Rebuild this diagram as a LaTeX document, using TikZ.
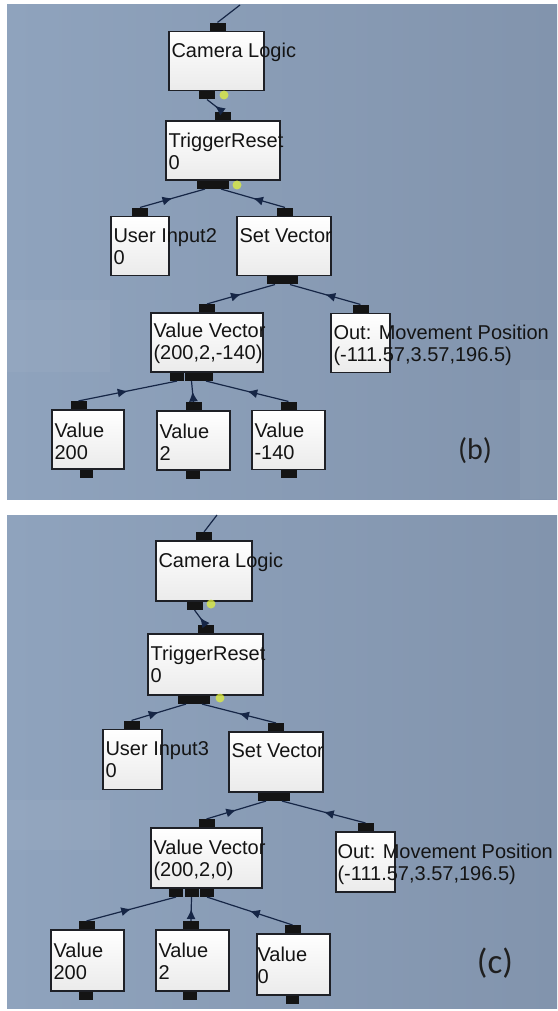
\documentclass[tikz,border=0pt]{standalone}
\usepackage{fontspec}
\setmainfont{Liberation Sans}
\newfontfamily\tagfont{Carlito}
\usetikzlibrary{arrows.meta,decorations.markings}

\definecolor{bgleft}{RGB}{143,163,189}
\definecolor{bgright}{RGB}{130,148,173}
\definecolor{boxedge}{RGB}{30,32,38}
\definecolor{linkblue}{RGB}{22,38,70}
\definecolor{glowyellow}{RGB}{225,240,60}

\tikzset{
    panel/.style={left color=bgleft, right color=bgright, draw=none},
    block/.style={rectangle, draw=boxedge, line width=1.3pt, top color=white,
        bottom color=gray!16, minimum height=59pt, inner sep=0pt},
    blocktext/.style={anchor=north west, inner sep=0pt, align=left,
        font=\fontsize{20}{22}\selectfont, text=black!92},
    port/.style={rectangle, fill=black!92, minimum width=16pt, minimum height=8pt, inner sep=0pt},
    link/.style={draw=linkblue, line width=1.2pt, postaction={decorate},
        decoration={markings, mark=at position 0.5 with {\arrow{Latex[length=10pt,width=9pt]}}}},
    glow/.style={circle, fill=glowyellow, opacity=0.75, minimum size=9pt, inner sep=0pt},
    tag/.style={text=black!88}
}

\begin{document}
\begin{tikzpicture}[x=1pt,y=-1pt]

    % Page and the two panels
    \fill[white] (0,0) rectangle (557,1011);
    \useasboundingbox (0,0) rectangle (557,1011);
    \fill[panel] (7,5) rectangle (557,499);
    \fill[panel] (7,515) rectangle (557,1008);
    \fill[white,opacity=0.04] (7,300) rectangle (110,372);
    \fill[white,opacity=0.04] (520,380) rectangle (557,499);
    \fill[white,opacity=0.04] (7,800) rectangle (110,850);

    %%%%%%%%%%%%%%%%%%%% panel (b) %%%%%%%%%%%%%%%%%%%%

    % Boxes
    \node[block, minimum width=95pt] (camB) at (216.5,61) {};
    \node[block, minimum width=114pt] (trgB) at (223,150.5) {};
    \node[block, minimum width=58pt] (usrB) at (140,246) {};
    \node[block, minimum width=94pt] (setB) at (284,246) {};
    \node[block, minimum width=112pt] (vvB) at (207,342.5) {};
    \node[block, minimum width=59pt] (outB) at (360.5,343) {};
    \node[block, minimum width=72pt] (vaB) at (88,439.5) {};
    \node[block, minimum width=73pt] (vbB) at (193.5,440.5) {};
    \node[block, minimum width=73pt] (vcB) at (288.5,440) {};

    % Box texts
    \node[blocktext] (camBt) at ([shift={(3pt,-12pt)}]camB.north west) {Camera Logic};
    \node[blocktext] (trgBt) at ([shift={(3pt,-12pt)}]trgB.north west) {TriggerReset\\0};
    \node[blocktext] (usrBt) at ([shift={(3pt,-12pt)}]usrB.north west) {User Input2\\0};
    \node[blocktext] (setBt) at ([shift={(3pt,-12pt)}]setB.north west) {Set Vector};
    \node[blocktext] (vvBt) at ([shift={(3pt,-10pt)}]vvB.north west) {Value Vector\\(200,2,-140)};
    \node[blocktext] (outBt) at ([shift={(3pt,-12pt)}]outB.north west) {Out: Movement Position\\(-111.57,3.57,196.5)};
    \node[blocktext] (vaBt) at ([shift={(3pt,-13pt)}]vaB.north west) {Value\\200};
    \node[blocktext] (vbBt) at ([shift={(3pt,-13pt)}]vbB.north west) {Value\\2};
    \node[blocktext] (vcBt) at ([shift={(3pt,-13pt)}]vcB.north west) {Value\\-140};

    % Ports
    \node[port, anchor=south] (camBin) at ([xshift=1pt]camB.north) {};
    \node[port, anchor=north] (camBout) at ([xshift=-9.5pt]camB.south) {};
    \node[port, anchor=south] (trgBin) at (trgB.north) {};
    \node[port, anchor=north] (trgBouta) at ([xshift=-18pt]trgB.south) {};
    \node[port, anchor=north] (trgBoutb) at ([xshift=-2pt]trgB.south) {};
    \node[port, anchor=south] (usrBin) at (usrB.north) {};
    \node[port, anchor=south] (setBin) at ([xshift=1pt]setB.north) {};
    \node[port, anchor=north] (setBouta) at ([xshift=-9pt]setB.south) {};
    \node[port, anchor=north] (setBoutb) at ([xshift=6pt]setB.south) {};
    \node[port, anchor=south] (vvBin) at (vvB.north) {};
    \node[port, anchor=north, minimum width=14pt] (vvBouta) at ([xshift=-30pt]vvB.south) {};
    \node[port, anchor=north, minimum width=14pt] (vvBoutb) at ([xshift=-15.5pt]vvB.south) {};
    \node[port, anchor=north, minimum width=14pt] (vvBoutc) at ([xshift=-1pt]vvB.south) {};
    \node[port, anchor=south] (outBin) at (outB.north) {};
    \node[port, anchor=south] (vaBin) at ([xshift=-9.5pt]vaB.north) {};
    \node[port, anchor=north, minimum width=13pt] (vaBout) at ([xshift=-1.5pt]vaB.south) {};
    \node[port, anchor=south] (vbBin) at (vbB.north) {};
    \node[port, anchor=north, minimum width=14pt] (vbBout) at ([xshift=-1pt]vbB.south) {};
    \node[port, anchor=south] (vcBin) at (vcB.north) {};
    \node[port, anchor=north] (vcBout) at (vcB.south) {};

    % Highlighted ports
    \node[glow] (camBglow) at (224,95) {};
    \node[glow] (trgBglow) at (237,185) {};

    % Links
    \coordinate (topB) at (240,5);
    \draw[linkblue, line width=1.2pt] (camBin.north) -- (topB);
    \draw[link] (trgBin.north) -- (camBout.south);
    \draw[link] (usrBin.north) -- (trgBouta.south);
    \draw[link] (setBin.north) -- (trgBoutb.south);
    \draw[link] (vvBin.north) -- (setBouta.south);
    \draw[link] (outBin.north) -- (setBoutb.south);
    \draw[link] (vaBin.north) -- (vvBouta.south);
    \draw[link] (vbBin.north) -- (vvBoutb.south);
    \draw[link] (vcBin.north) -- (vvBoutc.south);

    \node[tag, font=\fontsize{30}{32}\selectfont\tagfont] (tagB) at (475,451) {(b)};

    %%%%%%%%%%%%%%%%%%%% panel (c) %%%%%%%%%%%%%%%%%%%%

    % Boxes
    \node[block, minimum width=96pt, minimum height=60pt] (camC) at (204,571) {};
    \node[block, minimum width=115pt, minimum height=61pt] (trgC) at (205.5,664.5) {};
    \node[block, minimum width=59pt, minimum height=60pt] (usrC) at (132.5,759.5) {};
    \node[block, minimum width=94pt, minimum height=60pt] (setC) at (276,762) {};
    \node[block, minimum width=111pt, minimum height=60pt] (vvC) at (206.5,858) {};
    \node[block, minimum width=59pt, minimum height=60pt] (outC) at (365.5,862) {};
    \node[block, minimum width=73pt, minimum height=61pt] (vaC) at (87.5,960.5) {};
    \node[block, minimum width=73pt, minimum height=61pt] (vbC) at (192.5,960.5) {};
    \node[block, minimum width=73pt, minimum height=61pt] (vcC) at (293.5,964.5) {};

    % Box texts
    \node[blocktext] (camCt) at ([shift={(3pt,-12pt)}]camC.north west) {Camera Logic};
    \node[blocktext] (trgCt) at ([shift={(3pt,-12pt)}]trgC.north west) {TriggerReset\\0};
    \node[blocktext] (usrCt) at ([shift={(3pt,-12pt)}]usrC.north west) {User Input3\\0};
    \node[blocktext] (setCt) at ([shift={(3pt,-12pt)}]setC.north west) {Set Vector};
    \node[blocktext] (vvCt) at ([shift={(3pt,-12pt)}]vvC.north west) {Value Vector\\(200,2,0)};
    \node[blocktext] (outCt) at ([shift={(2pt,-12pt)}]outC.north west) {Out: Movement Position\\(-111.57,3.57,196.5)};
    \node[blocktext] (vaCt) at ([shift={(3pt,-13pt)}]vaC.north west) {Value\\200};
    \node[blocktext] (vbCt) at ([shift={(3pt,-13pt)}]vbC.north west) {Value\\2};
    \node[blocktext] (vcCt) at ([shift={(1pt,-13pt)}]vcC.north west) {Value\\0};

    % Ports
    \node[port, anchor=south] (camCin) at (camC.north) {};
    \node[port, anchor=north] (camCout) at ([xshift=-9.5pt]camC.south) {};
    \node[port, anchor=south] (trgCin) at (trgC.north) {};
    \node[port, anchor=north] (trgCouta) at ([xshift=-19.5pt]trgC.south) {};
    \node[port, anchor=north] (trgCoutb) at ([xshift=-3.5pt]trgC.south) {};
    \node[port, anchor=south] (usrCin) at ([xshift=-1pt]usrC.north) {};
    \node[port, anchor=south] (setCin) at (setC.north) {};
    \node[port, anchor=north] (setCouta) at ([xshift=-10pt]setC.south) {};
    \node[port, anchor=north] (setCoutb) at ([xshift=6pt]setC.south) {};
    \node[port, anchor=south] (vvCin) at (vvC.north) {};
    \node[port, anchor=north, minimum width=14pt] (vvCouta) at ([xshift=-30.5pt]vvC.south) {};
    \node[port, anchor=north, minimum width=14pt] (vvCoutb) at ([xshift=-15pt]vvC.south) {};
    \node[port, anchor=north, minimum width=14pt] (vvCoutc) at ([xshift=0.5pt]vvC.south) {};
    \node[port, anchor=south] (outCin) at (outC.north) {};
    \node[port, anchor=south] (vaCin) at ([xshift=-1pt]vaC.north) {};
    \node[port, anchor=north, minimum width=14pt] (vaCout) at ([xshift=-2pt]vaC.south) {};
    \node[port, anchor=south] (vbCin) at ([xshift=-1.5pt]vbC.north) {};
    \node[port, anchor=north, minimum width=14pt] (vbCout) at ([xshift=-2.5pt]vbC.south) {};
    \node[port, anchor=south] (vcCin) at ([xshift=-1pt]vcC.north) {};
    \node[port, anchor=north, minimum width=13pt] (vcCout) at ([xshift=-1.5pt]vcC.south) {};

    % Highlighted ports
    \node[glow] (camCglow) at (211,604) {};
    \node[glow] (trgCglow) at (220,698) {};

    % Links
    \coordinate (topC) at (217,515);
    \draw[linkblue, line width=1.2pt] (camCin.north) -- (topC);
    \draw[link] (trgCin.north) -- (camCout.south);
    \draw[link] (usrCin.north) -- (trgCouta.south);
    \draw[link] (setCin.north) -- (trgCoutb.south);
    \draw[link] (vvCin.north) -- (setCouta.south);
    \draw[link] (outCin.north) -- (setCoutb.south);
    \draw[link] (vaCin.north) -- (vvCouta.south);
    \draw[link] (vbCin.north) -- (vvCoutb.south);
    \draw[link] (vcCin.north) -- (vvCoutc.south);

    \node[tag, font=\fontsize{35}{37}\selectfont\tagfont] (tagC) at (495,963) {(c)};

\end{tikzpicture}
\end{document}
